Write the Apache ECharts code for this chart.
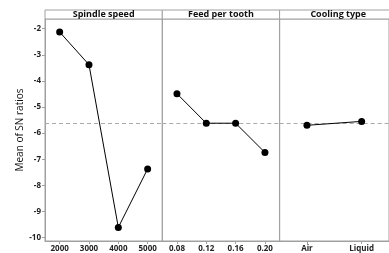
<!DOCTYPE html>
<html>
<head>
<meta charset="utf-8">
<script src="https://cdn.jsdelivr.net/npm/echarts@6/dist/echarts.min.js"></script>
<style>
  html, body { margin: 0; padding: 0; background: #fff; }
  #main { width: 389px; height: 253px; }
</style>
</head>
<body>
<div id="main"></div>
<script>
// 因子名称与水平
var factors = ['Spindle speed', 'Feed per tooth', 'Cooling type'];
var spindleLevels = ['2000', '3000', '4000', '5000'];
var feedLevels = ['0.08', '0.12', '0.16', '0.20'];
var coolingLevels = ['Air', 'Liquid'];

// 各水平的SN比均值
var spindleSN = [-2.13, -3.38, -9.61, -7.37];
var feedSN = [-4.49, -5.62, -5.62, -6.74];
var coolingSN = [-5.70, -5.55];

// 总均值（虚线）
var meanSN = -5.62;

// y轴刻度
var yTicks = [-10, -9, -8, -7, -6, -5, -4, -3, -2];

var font = 'Open Sans, DejaVu Sans, sans-serif';
var gridLeft = [45, 162.3, 279.6];
var panelW = 117.3;
var levels = [spindleLevels, feedLevels, coolingLevels];
var values = [spindleSN, feedSN, coolingSN];

var grids = [], xAxes = [], yAxes = [], series = [], graphics = [];

for (var i = 0; i < 3; i++) {
    grids.push({
        left: gridLeft[i], width: panelW, top: 19, bottom: 12,
        show: true, borderColor: '#a0a0a0', borderWidth: 1
    });
    xAxes.push({
        type: 'category', gridIndex: i, data: levels[i], boundaryGap: true,
        axisLine: { show: true, lineStyle: { color: '#a0a0a0' } },
        axisTick: { show: true, alignWithLabel: true, length: 3, lineStyle: { color: '#a0a0a0' } },
        axisLabel: { fontSize: 8, color: '#222', margin: 4, fontFamily: font, fontWeight: 'bold' },
        splitLine: { show: false }
    });
    yAxes.push({
        type: 'value', gridIndex: i, min: -10.13, max: -1.63,
        name: i === 0 ? 'Mean of SN ratios' : '',
        nameLocation: 'middle', nameGap: 16,
        nameTextStyle: { fontSize: 10, color: '#111', fontFamily: font },
        axisLine: { show: i === 0, lineStyle: { color: '#a0a0a0' } },
        axisTick: { show: i === 0, length: 3, customValues: yTicks, lineStyle: { color: '#a0a0a0' } },
        axisLabel: { show: i === 0, fontSize: 8, color: '#222', margin: 4, fontFamily: font, fontWeight: 'bold', customValues: yTicks },
        splitLine: { show: false }
    });
    series.push({
        type: 'line', xAxisIndex: i, yAxisIndex: i, data: values[i],
        symbol: 'circle', symbolSize: 7,
        itemStyle: { color: '#000' },
        lineStyle: { color: '#000', width: 1 },
        z: 5,
        markLine: {
            silent: true, symbol: 'none', label: { show: false },
            lineStyle: { color: '#aaa', type: [4, 3], width: 1 },
            data: [{ yAxis: meanSN }]
        }
    });
    // 面板标题栏
    graphics.push({
        type: 'rect',
        shape: { x: gridLeft[i], y: 10, width: panelW, height: 9 },
        style: { fill: '#fff', stroke: '#a0a0a0', lineWidth: 1 }
    });
    graphics.push({
        type: 'text',
        x: gridLeft[i] + panelW / 2, y: 14.8,
        style: {
            text: factors[i], fill: '#111', font: 'bold 9px ' + font,
            align: 'center', verticalAlign: 'middle'
        }
    });
}

var chart = echarts.init(document.getElementById('main'), null, { renderer: 'canvas' });
chart.setOption({
    animation: false,
    backgroundColor: '#fff',
    grid: grids,
    xAxis: xAxes,
    yAxis: yAxes,
    series: series,
    graphic: graphics
});
</script>
</body>
</html>
